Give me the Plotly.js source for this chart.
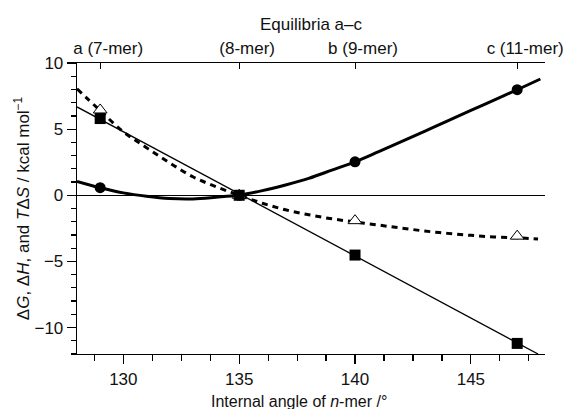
<!DOCTYPE html>
<html>
<head>
<meta charset="utf-8">
<script src="https://cdn.plot.ly/plotly-3.0.1.min.js"></script>
<style>
  html, body { margin: 0; padding: 0; background: #fff; }
  #chart { width: 565px; height: 409px; }
</style>
</head>
<body>
<div id="chart"></div>
<script>
// Measured points (internal angle, degrees)
const pointAngles = [129, 135, 140, 147];
const dG = [0.57, 0, 2.53, 7.98];
const dH = [5.8, 0, -4.52, -11.2];
const TdS = [6.45, 0, -1.92, -3.09];

// Fitted curves
const fitAnglesG = [128, 129, 130, 131, 132, 133, 134, 135, 136, 137, 138, 139, 140, 141, 142, 143, 144, 145, 146, 147, 148];
const fitG = [1.05, 0.57, 0.18, -0.08, -0.25, -0.28, -0.15, 0.02, 0.35, 0.78, 1.28, 1.9, 2.53, 3.28, 4.05, 4.83, 5.62, 6.41, 7.2, 7.98, 8.79];

const fitAnglesH = [128, 147.9];
const fitH = [6.68, -12];

const fitAnglesS = [128, 129, 130, 131, 132, 133, 134, 135, 136, 137, 138, 139, 140, 141, 142, 143, 144, 145, 146, 147, 147.9];
const fitS = [8.05, 6.4, 4.8, 3.6, 2.45, 1.4, 0.65, 0, -0.6, -1.1, -1.47, -1.78, -2.02, -2.25, -2.48, -2.7, -2.88, -3.03, -3.15, -3.22, -3.3];

// Top axis (equilibria)
const topTickVals = [129, 135, 140, 147];
const topTickText = ['a (7-mer)', '(8-mer)', 'b (9-mer)', 'c (11-mer)'];

const FONT = 'Liberation Sans, Arial, Helvetica, sans-serif';
const INK = '#111';

const traces = [
  { x: fitAnglesH, y: fitH, mode: 'lines', line: { color: 'black', width: 1.3 }, hoverinfo: 'skip' },
  { x: fitAnglesS, y: fitS, mode: 'lines', line: { color: 'black', width: 3, dash: '6px,5px', shape: 'spline', smoothing: 1 }, hoverinfo: 'skip' },
  { x: fitAnglesG, y: fitG, mode: 'lines', line: { color: 'black', width: 3, shape: 'spline', smoothing: 1 }, hoverinfo: 'skip' },
  { x: pointAngles, y: dG, mode: 'markers', marker: { symbol: 'circle', size: 11, color: 'black' } },
  { x: pointAngles, y: TdS, mode: 'markers', marker: { symbol: 'triangle-up', size: 12, color: 'white', line: { color: 'black', width: 1 } } },
  { x: pointAngles, y: dH, mode: 'markers', marker: { symbol: 'square', size: 11, color: 'black' } },
  { x: topTickVals, y: topTickVals.map(() => null), xaxis: 'x2', mode: 'markers', hoverinfo: 'skip' }
];

const layout = {
  width: 565, height: 409,
  margin: { l: 77, r: 20, t: 63, b: 55 },
  paper_bgcolor: 'white', plot_bgcolor: 'white',
  showlegend: false,
  font: { family: FONT, size: 17, color: INK },
  xaxis: {
    range: [128, 148.2],
    tickmode: 'linear', tick0: 130, dtick: 5,
    ticks: 'outside', ticklen: 9, tickwidth: 1.2, tickcolor: 'black',
    minor: { dtick: 1.25, ticks: 'outside', ticklen: 6, tickwidth: 1.2, tickcolor: 'black', showgrid: false },
    showline: true, linecolor: 'black', linewidth: 1.3,
    showgrid: false, zeroline: false,
    tickfont: { family: FONT, size: 17, color: INK }
  },
  xaxis2: {
    overlaying: 'x', side: 'top', anchor: 'y',
    range: [128, 148.2],
    tickmode: 'array', tickvals: topTickVals, ticktext: topTickText,
    ticks: 'inside', ticklen: 6, tickwidth: 1, tickcolor: 'black',
    ticklabelshift: 8, ticklabelstandoff: 1,
    showline: true, linecolor: 'black', linewidth: 1.3,
    showgrid: false, zeroline: false,
    tickfont: { family: FONT, size: 17, color: INK },
    title: { text: 'Equilibria a–c', font: { family: FONT, size: 17, color: INK }, standoff: 4 }
  },
  yaxis: {
    range: [-12, 10],
    tickmode: 'linear', tick0: 0, dtick: 5,
    ticks: 'outside', ticklen: 9, tickwidth: 1.2, tickcolor: 'black',
    minor: { dtick: 1, ticks: 'outside', ticklen: 5, tickwidth: 1.2, tickcolor: 'black', showgrid: false },
    showline: true, linecolor: 'black', linewidth: 1.3,
    showgrid: false,
    zeroline: true, zerolinecolor: 'black', zerolinewidth: 1.5,
    tickfont: { family: FONT, size: 17, color: INK },
    title: { text: 'Δ<i>G</i>, Δ<i>H</i>, and <i>T</i>Δ<i>S</i> / kcal mol<sup>−1</sup>', font: { family: FONT, size: 17, color: INK }, standoff: 0 }
  },
  annotations: [
    { text: 'Internal angle of <i>n</i>-mer /°', xref: 'paper', yref: 'paper',
      x: 0.474, y: -0.162, xanchor: 'center', yanchor: 'middle', showarrow: false,
      font: { family: FONT, size: 16, color: INK } }
  ]
};

Plotly.newPlot('chart', traces, layout, { staticPlot: true, displayModeBar: false });
</script>
</body>
</html>
